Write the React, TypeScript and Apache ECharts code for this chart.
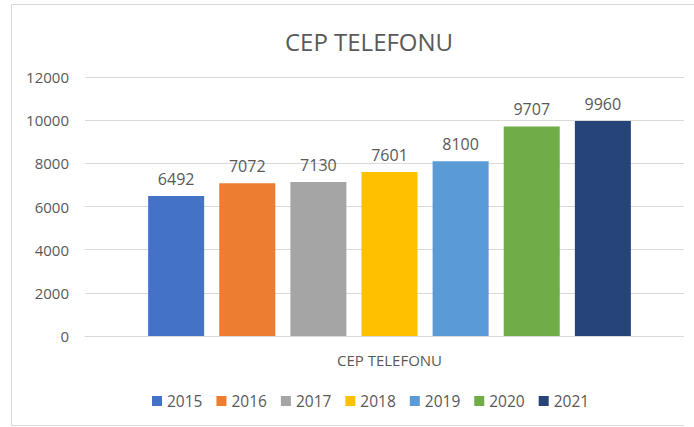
import React, { useEffect, useRef } from "react";
import * as echarts from "echarts";

const title = "CEP TELEFONU";
const categories = ["CEP TELEFONU"];
const years = ["2015", "2016", "2017", "2018", "2019", "2020", "2021"];
const values = [6492, 7072, 7130, 7601, 8100, 9707, 9960];
const colors = ["#4472C4", "#ED7D31", "#A5A5A5", "#FFC000", "#5B9BD5", "#70AD47", "#264478"];
const yTicks = { min: 0, max: 12000, interval: 2000 };

const FONT = "'Open Sans', 'Noto Sans', sans-serif";
const TEXT = "#595959";
const GRID = "#D9D9D9";

export default function App() {
  const ref = useRef<HTMLDivElement>(null);
  useEffect(() => {
    document.body.style.margin = "0";
    const chart = echarts.init(ref.current!, null, { renderer: "svg" });
    chart.setOption({
      animation: false,
      backgroundColor: "#ffffff",
      textStyle: { fontFamily: FONT },
      title: {
        text: title,
        left: 364,
        top: 24,
        textAlign: "center",
        textStyle: { fontFamily: FONT, fontSize: 24, fontWeight: "normal", color: TEXT },
      },
      legend: {
        data: years,
        left: 147,
        top: 388,
        icon: "rect",
        itemWidth: 10,
        itemHeight: 10,
        itemGap: 14,
        textStyle: { fontFamily: FONT, fontSize: 15.5, color: TEXT },
      },
      grid: { left: 85, right: 0, top: 77, bottom: 91, containLabel: false },
      xAxis: {
        type: "category",
        data: categories,
        axisLine: { lineStyle: { color: GRID } },
        axisTick: { show: false },
        axisLabel: { fontFamily: FONT, fontSize: 15, color: TEXT, margin: 16 },
      },
      yAxis: {
        type: "value",
        min: yTicks.min,
        max: yTicks.max,
        interval: yTicks.interval,
        axisLine: { show: false },
        axisTick: { show: false },
        splitLine: { lineStyle: { color: GRID, width: 1 } },
        axisLabel: {
          fontFamily: FONT,
          fontSize: 15,
          color: TEXT,
          margin: 16,
          formatter: (v: number) => String(v),
        },
      },
      series: years.map((y, i) => ({
        name: y,
        type: "bar",
        data: [values[i]],
        barWidth: 56,
        barGap: "27%",
        itemStyle: { color: colors[i] },
        label: {
          show: true,
          position: "top",
          distance: 9,
          fontFamily: FONT,
          fontSize: 16,
          color: TEXT,
        },
      })),
      color: colors,
      graphic: [
        { type: "rect", z: 100, shape: { x: 684, y: 0, width: 10, height: 427 }, style: { fill: "#ffffff" } },
        { type: "line", z: 101, shape: { x1: 11.5, y1: 4.5, x2: 11.5, y2: 426 }, style: { stroke: GRID, lineWidth: 1 } },
        { type: "line", z: 101, shape: { x1: 11.5, y1: 4.5, x2: 694, y2: 4.5 }, style: { stroke: GRID, lineWidth: 1 } },
        { type: "line", z: 101, shape: { x1: 11.5, y1: 425.5, x2: 684, y2: 425.5 }, style: { stroke: GRID, lineWidth: 1 } },
      ],
    });
    return () => chart.dispose();
  }, []);
  return <div ref={ref} style={{ width: 694, height: 427 }} />;
}
